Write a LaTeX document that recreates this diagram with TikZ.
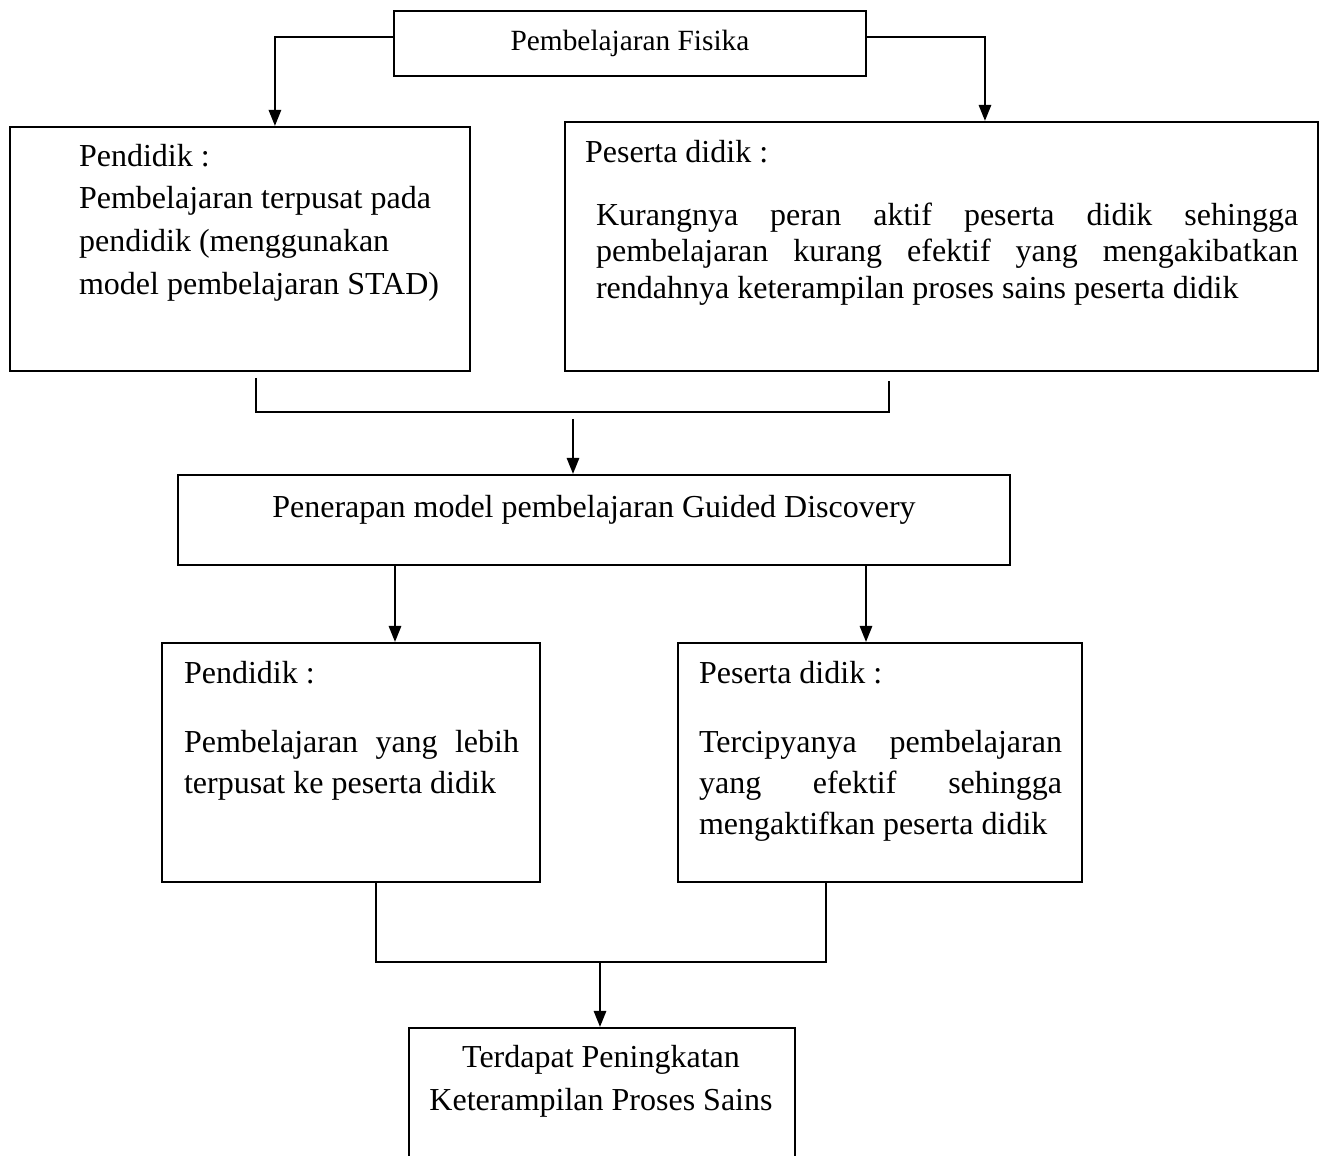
\documentclass[tikz,border=0pt]{standalone}
\usepackage{fontspec}
\setmainfont{Liberation Serif}
\usetikzlibrary{arrows.meta}
\setlength{\parindent}{0pt}
\hyphenpenalty=10000
\exhyphenpenalty=10000

\tikzset{
  kotak/.style={draw,inner sep=0pt},
  teks/.style={inner sep=0pt,font=\fontsize{12pt}{16pt}\selectfont},
  paragraf/.style={teks,anchor=base west,align=justify}
}

\begin{document}
\begin{tikzpicture}[x=0.375pt,y=-0.375pt,line width=0.8pt,>={Triangle[length=6pt,width=4.6pt]}]
  \path[use as bounding box,clip] (0,0) rectangle (1325,1156);
  % kotak-kotak
  \node[kotak,minimum width=177pt,minimum height=24.4pt,font=\fontsize{11pt}{14pt}\selectfont] (fisika) at (630,43.5) {Pembelajaran Fisika};
  \node[kotak,minimum width=172.5pt,minimum height=91.5pt] (pendidikA) at (240,249) {};
  \node[kotak,minimum width=282.4pt,minimum height=93.4pt] (pesertaA) at (941.5,246.5) {};
  \node[kotak,minimum width=312pt,minimum height=33.75pt] (penerapan) at (594,520) {};
  \node[kotak,minimum width=141.75pt,minimum height=89.6pt] (pendidikB) at (351,762.5) {};
  \node[kotak,minimum width=151.5pt,minimum height=89.6pt] (pesertaB) at (880,762.5) {};
  \node[kotak,minimum width=144.75pt,minimum height=56.25pt] (hasil) at (602,1103) {};
  % teks (baris terakhir jadi baseline)
  \node[teks,anchor=base west,align=left] (tpendidikA) at (78,294)
    {Pendidik :\\ Pembelajaran terpusat pada\\ pendidik (menggunakan\\ model pembelajaran STAD)};
  \node[teks,anchor=base west] (jpesertaA) at (584,162) {Peserta didik :};
  \node[paragraf,text width=263.3pt,font=\fontsize{12pt}{13.8pt}\selectfont] (tpesertaA) at (595,225)
    {Kurangnya peran aktif peserta didik sehingga pembelajaran kurang efektif yang mengakibatkan rendahnya keterampilan proses sains peserta didik};
  \node[teks,anchor=base] (tpenerapan) at (594,517) {Penerapan model pembelajaran Guided Discovery};
  \node[teks,anchor=base west] (jpendidikB) at (183,683) {Pendidik :};
  \node[paragraf,text width=125.6pt,font=\fontsize{12pt}{15.4pt}\selectfont] (tpendidikB) at (183,752)
    {Pembelajaran yang lebih terpusat ke peserta didik};
  \node[teks,anchor=base west] (jpesertaB) at (698,683) {Peserta didik :};
  \node[paragraf,text width=136.1pt,font=\fontsize{12pt}{15.4pt}\selectfont] (tpesertaB) at (698,752)
    {Tercipyanya pembelajaran yang efektif sehingga mengaktifkan peserta didik};
  \node[teks,anchor=base,align=center] (thasil) at (601,1110)
    {Terdapat Peningkatan\\ Keterampilan Proses Sains};
  % panah
  \coordinate (gabungA) at (573,412);
  \coordinate (gabungB) at (600,962);
  \draw[->] ([yshift=2.4pt]fisika.west) -| ([xshift=13.1pt]pendidikA.north);
  \draw[->] ([yshift=2.4pt]fisika.east) -| ([xshift=16.3pt]pesertaA.north);
  \draw ([xshift=6pt,yshift=-2.2pt]pendidikA.south) |- (gabungA) -| ([xshift=-19.7pt,yshift=-3.4pt]pesertaA.south);
  \draw[->] ([yshift=-2.6pt]gabungA) -- (penerapan.north -| gabungA);
  \draw[->] ([xshift=16.5pt]pendidikB.north |- penerapan.south) -- ([xshift=16.5pt]pendidikB.north);
  \draw[->] ([xshift=-5.25pt]pesertaB.north |- penerapan.south) -- ([xshift=-5.25pt]pesertaB.north);
  \draw ([xshift=9.4pt]pendidikB.south) |- (gabungB) -| ([xshift=-20.25pt]pesertaB.south);
  \draw[->] (gabungB) -- (hasil.north -| gabungB);
\end{tikzpicture}
\end{document}
